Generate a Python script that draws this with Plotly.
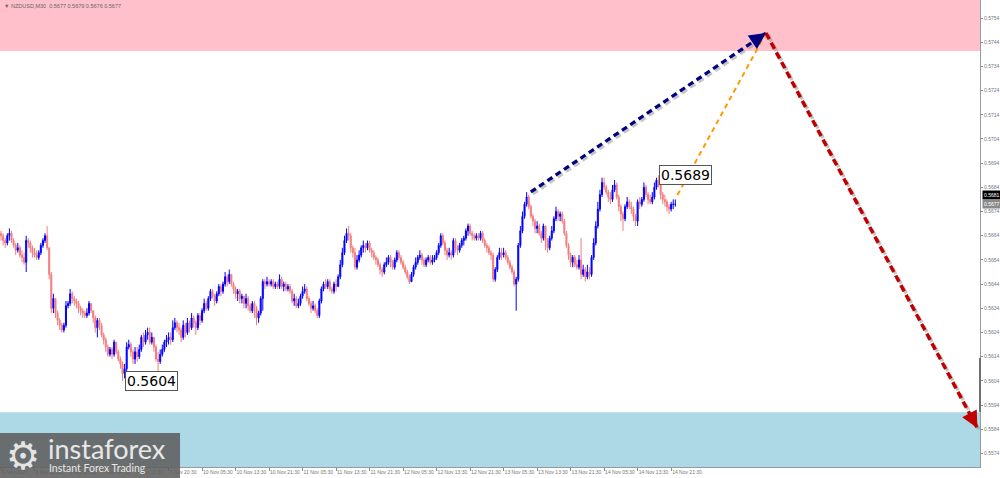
import plotly.graph_objects as go

# NZDUSD M30 candles, prices in pips (0.0001). One row = 16 bars = one x tick step.
first_open = 5665
close_pips = [
    5664, 5662, 5661, 5664, 5665, 5662, 5660, 5658, 5659, 5656, 5655, 5653, 5662, 5661, 5659, 5657,
    5656, 5655, 5657, 5660, 5662, 5664, 5659, 5648, 5634, 5638, 5632, 5629, 5627, 5625, 5627, 5635,
    5636, 5640, 5638, 5637, 5636, 5634, 5633, 5632, 5631, 5632, 5636, 5633, 5630, 5626, 5629, 5627,
    5623, 5621, 5618, 5615, 5617, 5615, 5620, 5616, 5613, 5611, 5607, 5609, 5618, 5619, 5616, 5613,
    5616, 5614, 5617, 5622, 5620, 5623, 5624, 5620, 5622, 5618, 5613, 5612, 5615, 5617, 5620, 5621,
    5622, 5621, 5626, 5628, 5626, 5625, 5622, 5627, 5624, 5628, 5626, 5630, 5628, 5626, 5631, 5629,
    5633, 5636, 5634, 5638, 5641, 5639, 5637, 5640, 5643, 5641, 5644, 5647, 5645, 5648, 5644, 5642,
    5640, 5641, 5638, 5639, 5636, 5638, 5635, 5633, 5636, 5634, 5630, 5632, 5638, 5645, 5644, 5645,
    5644, 5645, 5643, 5644, 5643, 5646, 5643, 5644, 5642, 5643, 5641, 5637, 5638, 5635, 5636, 5639,
    5641, 5642, 5638, 5636, 5634, 5635, 5633, 5631, 5637, 5642, 5644, 5643, 5645, 5642, 5641, 5644,
    5643, 5647, 5652, 5657, 5662, 5665, 5664, 5659, 5657, 5651, 5654, 5656, 5659, 5660, 5659, 5661,
    5658, 5657, 5655, 5654, 5652, 5650, 5649, 5652, 5653, 5655, 5653, 5651, 5654, 5657, 5655, 5653,
    5651, 5649, 5647, 5645, 5648, 5651, 5653, 5655, 5656, 5654, 5652, 5654, 5655, 5653, 5654, 5655,
    5657, 5660, 5664, 5661, 5658, 5656, 5657, 5656, 5662, 5659, 5658, 5660, 5662, 5663, 5666, 5668,
    5665, 5664, 5663, 5664, 5663, 5665, 5662, 5660, 5659, 5657, 5656, 5646, 5650, 5655, 5657, 5656,
    5657, 5655, 5653, 5651, 5649, 5644, 5646, 5660, 5666, 5672, 5677, 5680, 5676, 5672, 5670, 5667,
    5668, 5665, 5663, 5668, 5662, 5659, 5663, 5666, 5671, 5674, 5672, 5673, 5670, 5665, 5660, 5656,
    5653, 5655, 5652, 5651, 5654, 5648, 5650, 5647, 5649, 5648, 5655, 5661, 5668, 5675, 5681, 5686,
    5684, 5682, 5680, 5679, 5683, 5685, 5680, 5676, 5673, 5671, 5676, 5678, 5676, 5675, 5672, 5670,
    5678, 5677, 5679, 5684, 5681, 5679, 5678, 5680, 5684, 5687, 5685, 5681, 5679, 5678, 5676, 5675,
    5677, 5677, 5677,
]
high_pips = [
    5666, 5665, 5663, 5665, 5667, 5666, 5663, 5661, 5661, 5660, 5658, 5657, 5664, 5663, 5662, 5660,
    5659, 5658, 5658, 5661, 5663, 5665, 5668, 5659, 5649, 5640, 5638, 5633, 5630, 5628, 5628, 5637,
    5637, 5642, 5641, 5639, 5638, 5637, 5635, 5634, 5633, 5634, 5637, 5636, 5633, 5631, 5630, 5630,
    5628, 5624, 5622, 5619, 5618, 5618, 5621, 5620, 5617, 5614, 5612, 5611, 5620, 5621, 5620, 5617,
    5618, 5618, 5619, 5623, 5624, 5625, 5626, 5626, 5624, 5622, 5619, 5616, 5617, 5619, 5621, 5623,
    5624, 5624, 5629, 5630, 5629, 5628, 5626, 5629, 5628, 5630, 5629, 5632, 5631, 5629, 5632, 5632,
    5634, 5638, 5637, 5639, 5642, 5642, 5640, 5641, 5644, 5644, 5645, 5649, 5648, 5650, 5648, 5645,
    5643, 5642, 5642, 5640, 5639, 5640, 5639, 5636, 5637, 5637, 5635, 5633, 5639, 5646, 5646, 5647,
    5646, 5646, 5646, 5645, 5645, 5648, 5647, 5645, 5645, 5644, 5644, 5642, 5640, 5639, 5638, 5640,
    5643, 5644, 5643, 5639, 5637, 5637, 5636, 5634, 5638, 5643, 5645, 5646, 5646, 5646, 5643, 5645,
    5646, 5648, 5654, 5659, 5664, 5667, 5668, 5665, 5660, 5659, 5656, 5658, 5660, 5662, 5661, 5662,
    5662, 5659, 5658, 5656, 5655, 5653, 5651, 5653, 5655, 5656, 5656, 5654, 5655, 5658, 5658, 5656,
    5654, 5652, 5650, 5648, 5649, 5652, 5655, 5656, 5658, 5657, 5655, 5655, 5656, 5656, 5656, 5656,
    5658, 5661, 5665, 5665, 5662, 5659, 5659, 5658, 5663, 5663, 5660, 5661, 5663, 5664, 5667, 5669,
    5669, 5666, 5665, 5665, 5665, 5666, 5666, 5663, 5661, 5660, 5658, 5657, 5651, 5656, 5659, 5659,
    5659, 5658, 5656, 5654, 5652, 5650, 5647, 5661, 5668, 5674, 5678, 5682, 5681, 5677, 5673, 5671,
    5670, 5669, 5666, 5669, 5668, 5663, 5664, 5668, 5672, 5676, 5675, 5674, 5674, 5671, 5666, 5661,
    5657, 5656, 5656, 5654, 5656, 5663, 5652, 5651, 5652, 5651, 5656, 5663, 5670, 5678, 5683, 5688,
    5688, 5685, 5683, 5682, 5685, 5687, 5686, 5681, 5677, 5674, 5677, 5680, 5679, 5678, 5676, 5673,
    5679, 5680, 5680, 5686, 5685, 5682, 5681, 5682, 5686, 5688, 5689, 5686, 5682, 5681, 5679, 5677,
    5678, 5679, 5679,
]
low_pips = [
    5662, 5660, 5659, 5660, 5662, 5661, 5659, 5656, 5657, 5655, 5653, 5652, 5649, 5659, 5657, 5655,
    5655, 5654, 5654, 5656, 5659, 5661, 5658, 5646, 5632, 5632, 5630, 5627, 5625, 5624, 5624, 5626,
    5634, 5635, 5636, 5635, 5634, 5632, 5631, 5630, 5630, 5630, 5631, 5632, 5628, 5624, 5622, 5625,
    5622, 5619, 5616, 5614, 5614, 5613, 5614, 5615, 5612, 5609, 5604, 5605, 5608, 5617, 5614, 5611,
    5611, 5612, 5613, 5616, 5618, 5619, 5621, 5619, 5619, 5616, 5612, 5608, 5611, 5614, 5616, 5618,
    5619, 5619, 5620, 5625, 5624, 5623, 5620, 5621, 5622, 5623, 5624, 5625, 5626, 5623, 5625, 5627,
    5628, 5632, 5633, 5633, 5637, 5638, 5635, 5636, 5639, 5639, 5640, 5643, 5643, 5644, 5643, 5640,
    5638, 5637, 5636, 5636, 5634, 5634, 5633, 5632, 5632, 5630, 5627, 5628, 5631, 5633, 5642, 5643,
    5643, 5643, 5642, 5642, 5642, 5642, 5642, 5641, 5641, 5641, 5640, 5636, 5635, 5634, 5634, 5635,
    5638, 5640, 5637, 5635, 5632, 5633, 5632, 5630, 5630, 5636, 5641, 5642, 5642, 5641, 5640, 5640,
    5641, 5643, 5646, 5651, 5656, 5661, 5662, 5657, 5655, 5650, 5650, 5653, 5655, 5657, 5657, 5658,
    5657, 5655, 5654, 5652, 5651, 5648, 5647, 5648, 5651, 5652, 5651, 5650, 5650, 5653, 5654, 5652,
    5650, 5648, 5646, 5644, 5645, 5647, 5650, 5652, 5654, 5652, 5651, 5651, 5653, 5652, 5652, 5653,
    5654, 5656, 5659, 5660, 5656, 5654, 5655, 5654, 5655, 5657, 5656, 5657, 5659, 5660, 5662, 5664,
    5664, 5662, 5662, 5662, 5662, 5662, 5661, 5659, 5657, 5656, 5654, 5645, 5645, 5649, 5654, 5654,
    5655, 5654, 5652, 5650, 5648, 5643, 5633, 5645, 5659, 5665, 5671, 5676, 5675, 5671, 5668, 5665,
    5665, 5664, 5661, 5662, 5658, 5657, 5658, 5662, 5665, 5670, 5670, 5670, 5669, 5664, 5659, 5654,
    5651, 5651, 5651, 5650, 5650, 5646, 5647, 5645, 5646, 5646, 5647, 5654, 5660, 5667, 5674, 5680,
    5683, 5681, 5678, 5677, 5678, 5682, 5679, 5674, 5670, 5666, 5670, 5675, 5675, 5673, 5670, 5668,
    5668, 5675, 5676, 5678, 5680, 5677, 5677, 5677, 5679, 5683, 5684, 5679, 5677, 5676, 5674, 5673,
    5674, 5675, 5676,
]

tick_bars = list(range(0, 321, 16))
tick_text = [
    "6 Nov 2025", "6 Nov 12:30", "6 Nov 20:30", "7 Nov 04:30", "7 Nov 12:30", "7 Nov 20:30",
    "10 Nov 05:30", "10 Nov 13:30", "10 Nov 21:30", "11 Nov 05:30", "11 Nov 13:30", "11 Nov 21:30",
    "12 Nov 05:30", "12 Nov 13:30", "12 Nov 21:30", "13 Nov 05:30", "13 Nov 13:30", "13 Nov 21:30",
    "14 Nov 05:30", "14 Nov 13:30", "14 Nov 21:30",
]

# zones (price levels)
resistance_zone = [0.57404, 0.5770]
support_zone = [0.5550, 0.5591]

# forecast wave arrows: (bar, price)
navy_x = [253, 365.3]
navy_y = [0.56821, 0.57478]
orange_x = [323, 365.3]
orange_y = [0.56808, 0.57478]
red_x = [365.3, 466.2]
red_y = [0.57478, 0.55845]

low_mark = (58, 0.5604)
high_mark = (314, 0.5689)
ask_price = 0.5681
bid_price = 0.5677

X_RANGE = [-0.5, 467.5]
Y_RANGE = [0.556839, 0.576144]
PLOT_W, PLOT_H = 980, 467

to_px = lambda v: v / 10000
opens = [first_open] + close_pips[:-1]
n = len(close_pips)

fig = go.Figure()
fig.add_trace(go.Candlestick(
    x=list(range(n)),
    open=[to_px(v) for v in opens],
    high=[to_px(v) for v in high_pips],
    low=[to_px(v) for v in low_pips],
    close=[to_px(v) for v in close_pips],
    increasing=dict(line=dict(color="#0000ff", width=1), fillcolor="#0000ff"),
    decreasing=dict(line=dict(color="#f27d7d", width=1), fillcolor="#f27d7d"),
    hoverinfo="skip",
))

sx = (X_RANGE[1] - X_RANGE[0]) / PLOT_W      # bars per pixel
sy = (Y_RANGE[1] - Y_RANGE[0]) / PLOT_H      # price per pixel


def dashed(xs, ys, color, width, dash, shadow=True):
    if shadow:
        fig.add_trace(go.Scatter(
            x=[v + 2 * sx for v in xs], y=[v - 2 * sy for v in ys], mode="lines",
            line=dict(color="rgba(150,150,150,0.55)", width=width, dash=dash), hoverinfo="skip"))
    fig.add_trace(go.Scatter(x=xs, y=ys, mode="lines",
                             line=dict(color=color, width=width, dash=dash), hoverinfo="skip"))


def head(xs, ys, color):
    dx = (xs[1] - xs[0]) / sx
    dy = -(ys[1] - ys[0]) / sy
    ln = (dx ** 2 + dy ** 2) ** 0.5
    fig.add_annotation(x=xs[1], y=ys[1], ax=-dx / ln * 14, ay=-dy / ln * 14,
                       showarrow=True, arrowhead=2, arrowsize=1.1, arrowwidth=3,
                       arrowcolor=color, text="")


dashed(navy_x, navy_y, "#000080", 3.2, "6px,4px")
dashed(orange_x, orange_y, "#ff9b00", 2, "5px,4px", shadow=False)
dashed(red_x, red_y, "#c00000", 3.5, "7px,4px")
head(navy_x, navy_y, "#000080")
head(red_x, red_y, "#c00000")

shapes = [
    dict(type="rect", xref="x", yref="y", x0=X_RANGE[0], x1=X_RANGE[1],
         y0=resistance_zone[0], y1=resistance_zone[1], fillcolor="#ffc0cb", line_width=0, layer="below"),
    dict(type="rect", xref="x", yref="y", x0=X_RANGE[0], x1=X_RANGE[1],
         y0=support_zone[0], y1=support_zone[1], fillcolor="#add8e6", line_width=0, layer="below"),
    dict(type="line", xref="paper", yref="y", x0=1, x1=1, y0=0.56134, y1=0.55911,
         line=dict(color="#707070", width=2)),
    # logo plate
    dict(type="rect", xref="paper", yref="paper", x0=0, x1=0.1837, y0=-0.03, y1=0.0728,
         fillcolor="rgba(95,95,95,0.88)", line_width=0, layer="above"),
]

annotations = [
    dict(xref="paper", yref="paper", x=0.002, y=0.988, xanchor="left", yanchor="middle",
         text="\u25bc NZDUSD,M30  0.5677 0.5679 0.5676 0.5677", showarrow=False,
         font=dict(family="Liberation Sans", size=5.5, color="#666")),
    dict(x=low_mark[0], y=low_mark[1], xanchor="left", yanchor="middle", xshift=2,
         text=f"{low_mark[1]:.4f}", showarrow=False, bgcolor="white", bordercolor="#555",
         borderwidth=1, borderpad=1, font=dict(family="DejaVu Sans", size=14, color="black")),
    dict(x=high_mark[0], y=high_mark[1], xanchor="left", yanchor="middle", xshift=0,
         text=f"{high_mark[1]:.4f}", showarrow=False, bgcolor="white", bordercolor="#555",
         borderwidth=1, borderpad=1, font=dict(family="DejaVu Sans", size=14, color="black")),
    dict(xref="paper", x=1, y=ask_price, xanchor="left", yanchor="middle", xshift=2,
         text=f"{ask_price:.4f}", showarrow=False, bgcolor="black",
         font=dict(family="Liberation Sans", size=5, color="white")),
    dict(xref="paper", x=1, y=bid_price, xanchor="left", yanchor="middle", xshift=2,
         text=f"{bid_price:.4f}", showarrow=False, bgcolor="#8a8a8a",
         font=dict(family="Liberation Sans", size=5, color="white")),
    # logo texts
    dict(xref="paper", yref="paper", x=0.0235, y=0.024, xanchor="center", yanchor="middle",
         text="\u2699", showarrow=False, font=dict(family="DejaVu Sans", size=38, color="#e4e4e4")),
    dict(xref="paper", yref="paper", x=0.047, y=0.04, xanchor="left", yanchor="middle",
         text="instaforex", showarrow=False, font=dict(family="Lato", size=27, color="#e8e8e8")),
    dict(xref="paper", yref="paper", x=0.048, y=-0.003, xanchor="left", yanchor="middle",
         text="Instant Forex Trading", showarrow=False, font=dict(family="Lato", size=10.5, color="#e8e8e8")),
]

fig.update_layout(
    width=1000, height=478,
    margin=dict(l=0, r=20, t=0, b=11, autoexpand=False),
    paper_bgcolor="white", plot_bgcolor="white",
    showlegend=False,
    shapes=shapes,
    annotations=list(fig.layout.annotations) + annotations,
    xaxis=dict(range=X_RANGE, rangeslider=dict(visible=False), tickvals=tick_bars, ticktext=tick_text,
               ticks="outside", ticklen=3, tickcolor="#888", showline=True, linecolor="#999",
               showgrid=False, zeroline=False, ticklabelposition="outside right", tickangle=0,
               tickfont=dict(family="Liberation Sans", size=5, color="#777")),
    yaxis=dict(range=Y_RANGE, side="right", dtick=0.001, tick0=0.5574, tickformat=".4f",
               ticks="outside", ticklen=2, tickcolor="#888", showline=True, linecolor="#999",
               showgrid=False, zeroline=False,
               tickfont=dict(family="Liberation Sans", size=5, color="#777")),
)

# page has a default 8px body margin; drop it so the chart fills the window
fig.write_html("out.html", config={"displayModeBar": False},
               post_script="document.body.style.margin='0';")
